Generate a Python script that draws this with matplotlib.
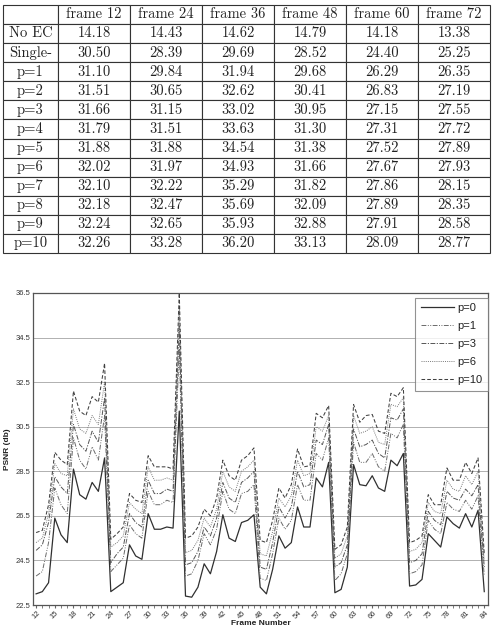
import matplotlib
matplotlib.use("Agg")
import matplotlib.pyplot as plt
import numpy as np

# ---- table data ----
col_labels = ["frame 12", "frame 24", "frame 36", "frame 48", "frame 60", "frame 72"]
row_labels = ["No EC", "Single-", "p=1", "p=2", "p=3", "p=4", "p=5",
              "p=6", "p=7", "p=8", "p=9", "p=10"]
table_vals = [
    [14.18, 14.43, 14.62, 14.79, 14.18, 13.38],
    [30.50, 28.39, 29.69, 28.52, 24.40, 25.25],
    [31.10, 29.84, 31.94, 29.68, 26.29, 26.35],
    [31.51, 30.65, 32.62, 30.41, 26.83, 27.19],
    [31.66, 31.15, 33.02, 30.95, 27.15, 27.55],
    [31.79, 31.51, 33.63, 31.30, 27.31, 27.72],
    [31.88, 31.88, 34.54, 31.38, 27.52, 27.89],
    [32.02, 31.97, 34.93, 31.66, 27.67, 27.93],
    [32.10, 32.22, 35.29, 31.82, 27.86, 28.15],
    [32.18, 32.47, 35.69, 32.09, 27.89, 28.35],
    [32.24, 32.65, 35.93, 32.88, 27.91, 28.58],
    [32.26, 33.28, 36.20, 33.13, 28.09, 28.77],
]

# ---- line chart data (PSNR per frame) ----
frames = list(range(12, 85))
p0 = [23.0, 23.1, 23.5, 26.4, 25.65, 25.3, 28.6, 27.45, 27.25, 28.0, 27.6, 29.1,
      23.1, 23.3, 23.5, 25.2, 24.7, 24.55, 26.6, 25.9, 25.9, 26.0, 25.95, 31.2,
      22.9, 22.85, 23.3, 24.35, 23.9, 24.9, 26.55, 25.5, 25.35, 26.2, 26.3, 26.55,
      23.3, 23.0, 24.1, 25.6, 25.05, 25.3, 26.9, 26.0, 26.0, 28.2, 27.8, 28.9,
      23.05, 23.2, 24.2, 28.8, 27.9, 27.85, 28.3, 27.75, 27.6, 29.0, 28.75, 29.3,
      23.35, 23.4, 23.65, 25.7, 25.4, 25.1, 26.45, 26.15, 25.95, 26.6, 26.0, 26.75, 23.1]
p1 = [23.8, 24.0, 25.3, 27.75, 27.0, 26.6, 30.0, 29.0, 28.6, 29.6, 29.0, 31.0,
      24.0, 24.3, 24.6, 26.1, 25.7, 25.5, 27.6, 27.0, 27.0, 27.2, 27.1, 34.0,
      23.8, 23.9, 24.5, 25.7, 25.2, 25.9, 27.6, 26.8, 26.6, 27.5, 27.6, 27.9,
      23.7, 23.6, 24.8, 26.4, 25.9, 26.3, 27.9, 27.2, 27.2, 29.3, 29.0, 30.0,
      23.6, 23.9, 24.8, 29.8, 28.9, 28.9, 29.3, 28.7, 28.5, 30.2, 30.0, 30.6,
      23.9, 24.0, 24.3, 26.3, 25.9, 25.7, 27.1, 26.8, 26.7, 27.2, 26.8, 27.4, 23.8]
p3 = [24.95, 25.2, 26.2, 28.25, 27.8, 27.5, 30.6, 29.7, 29.4, 30.3, 29.8, 31.8,
      24.4, 24.8, 25.1, 26.6, 26.2, 26.0, 28.1, 27.5, 27.5, 27.7, 27.6, 35.0,
      24.3, 24.4, 24.9, 26.0, 25.6, 26.4, 28.0, 27.3, 27.1, 28.0, 28.2, 28.5,
      24.2, 24.1, 25.3, 26.9, 26.4, 26.9, 28.5, 27.8, 27.9, 29.9, 29.7, 30.6,
      24.2, 24.4, 25.2, 30.4, 29.6, 29.7, 29.9, 29.3, 29.1, 30.9, 30.8, 31.3,
      24.4, 24.5, 24.8, 26.7, 26.3, 26.1, 27.6, 27.3, 27.2, 27.7, 27.4, 27.9, 24.2]
p6 = [25.3, 25.5, 26.6, 28.85, 28.4, 28.3, 31.3, 30.4, 30.2, 31.0, 30.6, 32.5,
      25.1, 25.3, 25.6, 27.1, 26.8, 26.6, 28.7, 28.1, 28.1, 28.2, 28.1, 35.8,
      24.85, 24.95, 25.4, 26.4, 26.0, 26.8, 28.5, 27.8, 27.6, 28.5, 28.7, 29.0,
      24.8, 24.7, 25.8, 27.3, 26.9, 27.4, 29.0, 28.3, 28.4, 30.5, 30.3, 31.0,
      24.6, 24.8, 25.6, 31.0, 30.2, 30.3, 30.5, 29.8, 29.7, 31.5, 31.4, 31.8,
      24.9, 25.0, 25.3, 27.1, 26.7, 26.6, 28.1, 27.7, 27.6, 28.3, 27.9, 28.5, 24.5]
p10 = [25.75, 25.85, 27.0, 29.35, 29.0, 28.8, 32.1, 31.2, 31.0, 31.85, 31.6, 33.35,
       25.45, 25.7, 26.0, 27.5, 27.2, 27.1, 29.2, 28.7, 28.7, 28.7, 28.6, 36.5,
       25.5, 25.6, 26.0, 26.8, 26.5, 27.3, 29.0, 28.3, 28.1, 29.0, 29.2, 29.55,
       25.4, 25.3, 26.3, 27.75, 27.3, 27.9, 29.5, 28.7, 28.75, 31.1, 30.9, 31.45,
       25.0, 25.2, 26.0, 31.5, 30.7, 31.0, 31.05, 30.3, 30.2, 32.0, 31.85, 32.25,
       25.3, 25.4, 25.6, 27.45, 27.0, 27.0, 28.65, 28.1, 28.1, 28.9, 28.4, 29.1, 24.8]

series = [("p=0", p0, "-", "#303030", 0.9),
          ("p=1", p1, (0, (5, 1.5, 1, 1.5, 1, 1.5)), "#6a6a6a", 0.7),
          ("p=3", p3, (0, (5, 1.5, 1.2, 1.5)), "#555555", 0.7),
          ("p=6", p6, (0, (1, 1.2)), "#7a7a7a", 0.7),
          ("p=10", p10, (0, (3.5, 2)), "#404040", 0.75)]

W, H = 492, 635
fig = plt.figure(figsize=(W / 100, H / 100), dpi=100)

# ---- table ----
tab_ax = fig.add_axes([0.006, 1 - 253 / H, 0.99, 248 / H])
tab_ax.axis("off")
cell_text = [[""] + col_labels] + [[r] + ["%.2f" % v for v in row]
                                   for r, row in zip(row_labels, table_vals)]
tbl = tab_ax.table(cellText=cell_text, loc="center", cellLoc="center",
                   bbox=[0, 0, 1, 1],
                   colWidths=[55] + [72] * 6)
tbl.auto_set_font_size(False)
for (r, c), cell in tbl.get_celld().items():
    cell.set_linewidth(0.8)
    cell.set_edgecolor("#333333")
    cell.get_text().set_fontsize(10.5)
    cell.get_text().set_family(["cmr10", "DejaVu Serif"])
    cell.get_text().set_color("#222222")

# ---- line chart ----
ax = fig.add_axes([33 / W, 1 - 605 / H, 455 / W, 312 / H])
for name, vals, ls, col, lw in series:
    ax.plot(frames, vals, linestyle=ls, color=col, lw=lw, label=name)

ax.set_xlim(11.5, 84.6)
ax.set_ylim(22.5, 36.5)
ax.set_yticks(np.arange(22.5, 36.6, 2))
ax.set_yticklabels(["%.1f" % v for v in np.arange(22.5, 36.6, 2)],
                   fontsize=5.5, family="Liberation Sans", color="#333333")
ax.set_xticks(frames[::3])
ax.set_xticklabels([str(f) for f in frames[::3]], rotation=45,
                   fontsize=5.5, family="Liberation Sans", color="#333333")
ax.set_xticks(frames, minor=True)
ax.tick_params(axis="x", which="both", length=2, pad=1, color="#666666")
ax.tick_params(axis="y", length=0, pad=2)
ax.yaxis.grid(True, color="#b0b0b0", lw=0.7)
ax.set_axisbelow(True)
for s in ax.spines.values():
    s.set_color("#555555")
    s.set_linewidth(0.9)

ax.set_xlabel("Frame Number", fontsize=6, fontweight="bold",
              family="Liberation Sans", labelpad=0, color="#222222")
ax.set_ylabel("PSNR (db)", fontsize=6, fontweight="bold",
              family="Liberation Sans", labelpad=3, color="#222222")

leg = ax.legend(loc="upper right", handlelength=3.0,
                frameon=True, fancybox=False, borderaxespad=0.0,
                bbox_to_anchor=(1.0, 0.985),
                borderpad=0.5, labelspacing=0.72, handletextpad=0.3,
                prop={"family": "Liberation Sans", "size": 8})
leg.get_frame().set_edgecolor("#777777")
leg.get_frame().set_linewidth(0.8)
for t in leg.get_texts():
    t.set_color("#222222")

fig.savefig("out.png", dpi=100)
